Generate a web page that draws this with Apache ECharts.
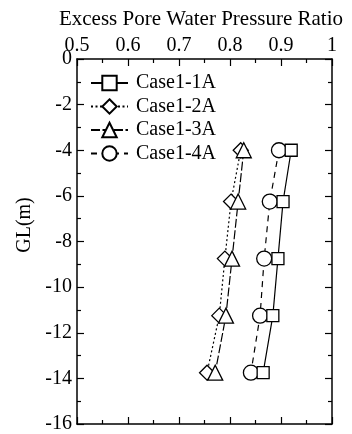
<!DOCTYPE html>
<html>
<head>
<meta charset="utf-8">
<script src="https://cdn.jsdelivr.net/npm/echarts@6/dist/echarts.min.js"></script>
<style>
  * { margin: 0; padding: 0; }
  body { background: #fff; }
</style>
</head>
<body>
<div id="mychart" style="width:352px;height:434px"></div>
<script>
const depth = [-4, -6.25, -8.75, -11.25, -13.75]
const case11A = [0.92, 0.904, 0.894, 0.884, 0.865]
const case12A = [0.821, 0.802, 0.790, 0.779, 0.755]
const case13A = [0.827, 0.816, 0.804, 0.792, 0.771]
const case14A = [0.896, 0.878, 0.867, 0.859, 0.841]
const xTicks = [0.5, 0.6, 0.7, 0.8, 0.9, 1]
const yTicks = [0, -2, -4, -6, -8, -10, -12, -14, -16]

const font = 'Liberation Serif'
const pairs = (vals) => vals.map((v, i) => [v, depth[i]])

function initChart() {
    var chart = echarts.init(document.getElementById('mychart'))
    const axisLine = { show: true, onZero: false, lineStyle: { color: '#000', width: 1.5 } }
    const tick = { show: true, inside: true, length: 7, lineStyle: { color: '#000', width: 1.2 } }
    const minor = { show: true, splitNumber: 2, length: 4, lineStyle: { color: '#000', width: 1.2 } }
    const mkSeries = (name, vals, symbol, size, dash) => ({
        name: name,
        type: 'line',
        data: pairs(vals),
        symbol: symbol,
        symbolSize: size,
        showAllSymbol: true,
        lineStyle: { color: '#000', width: 1.2, type: dash },
        itemStyle: { color: '#fff', borderColor: '#000', borderWidth: 1.3 },
        animation: false
    })
    const option = {
        animation: false,
        grid: { left: 77, right: 20, top: 59, bottom: 10 },
        legend: {
            left: 85, top: 68, orient: 'vertical',
            itemWidth: 37, itemHeight: 18, itemGap: 3.5,
            textStyle: { fontFamily: font, fontSize: 20, lineHeight: 20, color: '#000', padding: [0, 0, 0, 3] },
            data: ['Case1-1A', 'Case1-2A', 'Case1-3A', 'Case1-4A']
        },
        xAxis: [
            {
                type: 'value', position: 'top',
                min: xTicks[0], max: xTicks[xTicks.length - 1], interval: 0.1,
                name: 'Excess Pore Water Pressure Ratio', nameLocation: 'middle', nameGap: 29,
                nameTextStyle: { fontFamily: font, fontSize: 21, color: '#000', padding: [0, 7, 0, 0] },
                axisLine: axisLine, axisTick: tick, minorTick: minor,
                axisLabel: { margin: 3, fontFamily: font, fontSize: 20, color: '#000' },
                splitLine: { show: false }
            },
            {
                type: 'value', position: 'bottom',
                min: xTicks[0], max: xTicks[xTicks.length - 1], interval: 0.1,
                axisLine: axisLine, axisTick: tick, minorTick: minor,
                axisLabel: { show: false }, splitLine: { show: false }
            }
        ],
        yAxis: [
            {
                type: 'value', position: 'left',
                min: yTicks[yTicks.length - 1], max: yTicks[0], interval: 2,
                axisLine: axisLine, axisTick: tick, minorTick: minor,
                axisLabel: { margin: 5, fontFamily: font, fontSize: 20, color: '#000' },
                splitLine: { show: false }
            },
            {
                type: 'value', position: 'right',
                min: yTicks[yTicks.length - 1], max: yTicks[0], interval: 2,
                axisLine: axisLine, axisTick: tick, minorTick: minor,
                axisLabel: { show: false }, splitLine: { show: false }
            }
        ],
        graphic: [
            {
                type: 'text', x: 25, y: 225, rotation: Math.PI / 2,
                style: { text: 'GL(m)', fontFamily: font, fontSize: 20, fill: '#000', align: 'center', verticalAlign: 'middle' }
            }
        ],
        series: [
            mkSeries('Case1-2A', case12A, 'diamond', 15, [2, 2.5]),
            mkSeries('Case1-3A', case13A, 'triangle', 15, [9, 2.5]),
            mkSeries('Case1-4A', case14A, 'circle', 15, [6, 5]),
            mkSeries('Case1-1A', case11A, 'rect', 12, 'solid')
        ]
    }
    chart.setOption(option)
}
initChart()
</script>
</body>
</html>
